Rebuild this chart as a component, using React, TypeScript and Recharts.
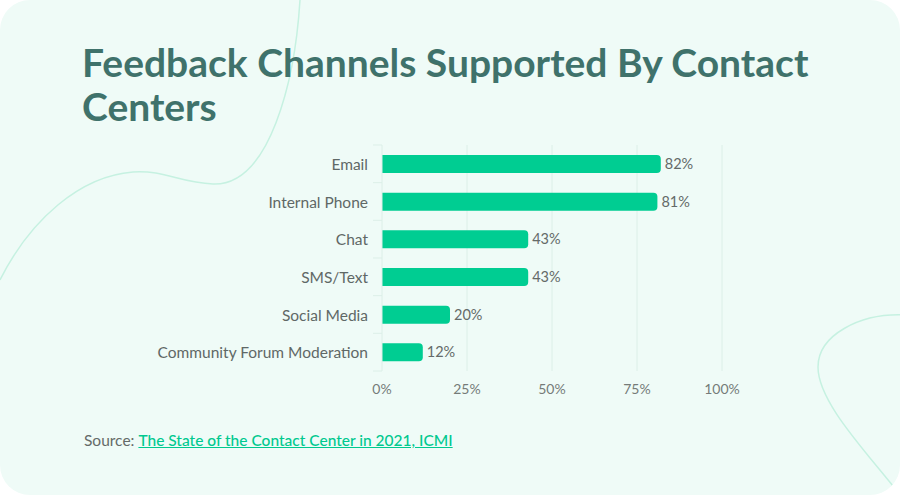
import React from 'react';
import { BarChart, Bar, XAxis, YAxis, CartesianGrid, LabelList } from 'recharts';

const categories = ['Email', 'Internal Phone', 'Chat', 'SMS/Text', 'Social Media', 'Community Forum Moderation'];
const values = [82, 81, 43, 43, 20, 12];
const xTicks = [0, 25, 50, 75, 100];

const data = categories.map((c, i) => ({ name: c, value: values[i] }));

const BODY_FONT = 'Lato, "Open Sans", sans-serif';
const AXIS_X = 382;
const BAND = 37.67;

const YTick = (props: any) => {
  const { y, payload, index } = props;
  const last = index === categories.length - 1;
  return (
    <g>
      <line x1={AXIS_X - 9} x2={AXIS_X} y1={y - BAND / 2} y2={y - BAND / 2} stroke="#dcefe8" strokeWidth={1} />
      {last && (
        <line x1={AXIS_X - 9} x2={AXIS_X} y1={y + BAND / 2} y2={y + BAND / 2} stroke="#dcefe8" strokeWidth={1} />
      )}
      <text x={AXIS_X - 14} y={y} textAnchor="end" dominantBaseline="central" fill="#5f6866" fontSize={15.5} fontFamily={BODY_FONT}>
        {payload.value}
      </text>
    </g>
  );
};

const XTick = (props: any) => {
  const { x, payload } = props;
  return (
    <text x={x} y={388} textAnchor="middle" dominantBaseline="central" fill="#757b79" fontSize={14} fontFamily={BODY_FONT}>
      {payload.value}%
    </text>
  );
};

export default function App() {
  return (
    <div style={{ position: 'absolute', left: 0, top: 0, width: 900, height: 500, background: '#ffffff', overflow: 'hidden' }}>
      <div style={{ position: 'absolute', left: 0, top: 0, width: 900, height: 495, borderRadius: 30, background: '#effbf7', overflow: 'hidden' }}>
        <svg width={900} height={495} style={{ position: 'absolute', left: 0, top: 0 }}>
          <path d="M300,0 C295,80 270,186 213,184 C180,183 165,170 133,172 C80,176 30,220 0,280" fill="none" stroke="#c6f1e1" strokeWidth={1.5} />
          <path d="M905,315 C860,313 818,335 818,367 C818,400 860,445 893,486" fill="none" stroke="#c6f1e1" strokeWidth={1.5} />
        </svg>
        <div style={{ position: 'absolute', left: 82, top: 40, width: 800, fontFamily: BODY_FONT, fontWeight: 700, fontSize: 39, lineHeight: '44px', color: '#3f726b' }}>
          Feedback Channels Supported By Contact Centers
        </div>
        <div style={{ position: 'absolute', left: 0, top: 0 }}>
          <BarChart
            width={900}
            height={420}
            data={data}
            layout="vertical"
            margin={{ top: 145, right: 178, bottom: 19, left: 0 }}
            barCategoryGap={0}
          >
            <CartesianGrid horizontal={false} vertical={true} stroke="#dcefe8" verticalValues={[25, 50, 75, 100]} />
            <XAxis type="number" domain={[0, 100]} ticks={xTicks} axisLine={false} tickLine={false} tick={<XTick />} height={30} interval={0} />
            <YAxis type="category" dataKey="name" width={AXIS_X} axisLine={{ stroke: '#dcefe8' }} tickLine={false} tick={<YTick />} interval={0} />
            <Bar dataKey="value" fill="#00cd92" barSize={18} radius={[0, 4, 4, 0]} isAnimationActive={false}>
              <LabelList dataKey="value" position="right" offset={4} fill="#646a68" fontSize={14.5} fontFamily={BODY_FONT} formatter={(v: any) => `${v}%`} />
            </Bar>
          </BarChart>
        </div>
        <div style={{ position: 'absolute', left: 84, top: 431, fontFamily: BODY_FONT, fontSize: 15.5, color: '#646a68', whiteSpace: 'nowrap' }}>
          Source:{' '}
          <a href="#" style={{ color: '#00c98f', textDecoration: 'underline', fontWeight: 500 }}>
            The State of the Contact Center in 2021, ICMI
          </a>
        </div>
      </div>
    </div>
  );
}
